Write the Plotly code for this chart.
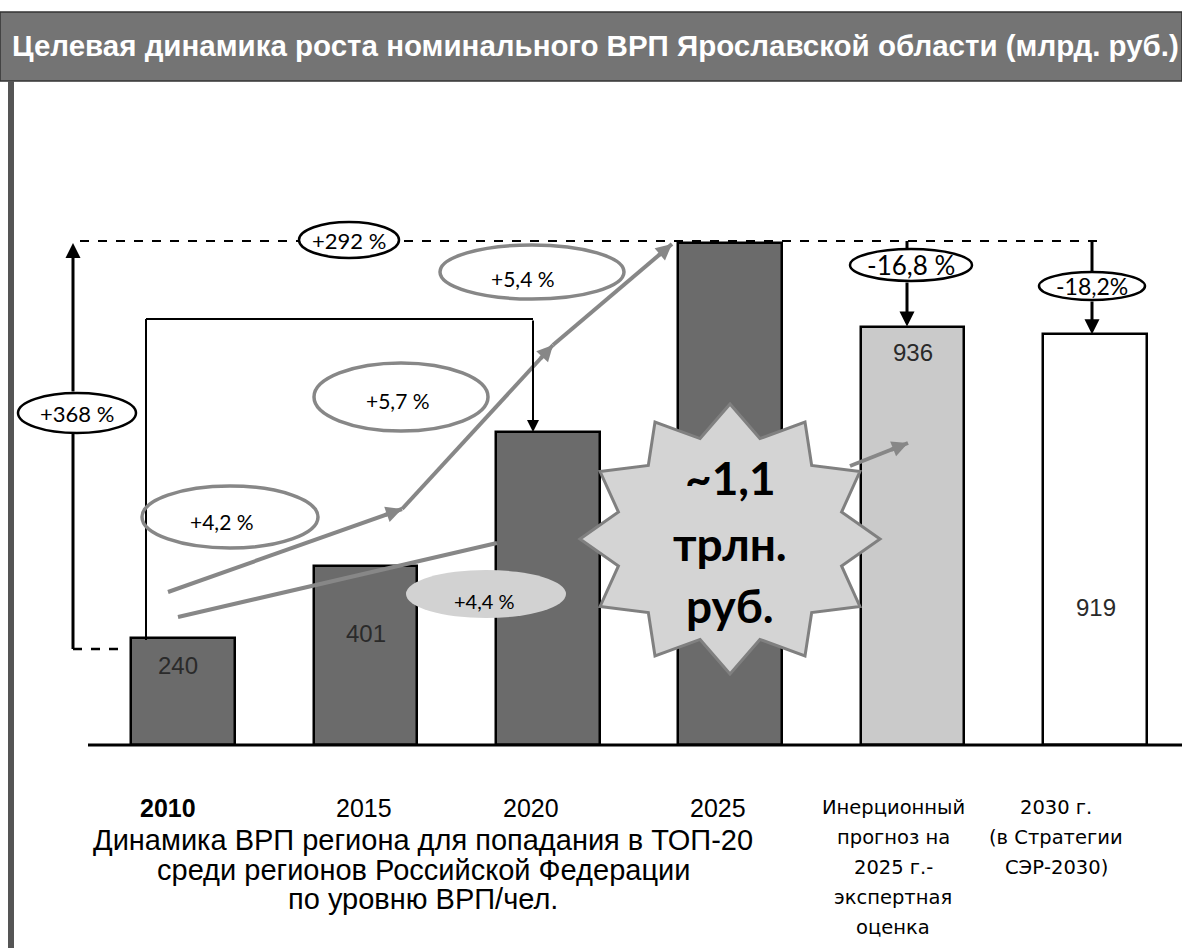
import math
import plotly.graph_objects as go

# ---------------- data ----------------
categories = ["2010", "2015", "2020", "2025", "Инерционный прогноз 2025", "2030 (Стратегия СЭР-2030)"]
values = [240, 401, 700, 1124, 936, 919]
bar_labels = ["240", "401", "", "", "936", "919"]
tick_labels = ["<b>2010</b>", "2015", "2020", "2025"]
right_label_1 = ["Инерционный", "прогноз на", "2025 г.-", "экспертная", "оценка"]
right_label_2 = ["2030 г.", "(в Стратегии", "СЭР-2030)"]
caption_lines = ["Динамика ВРП региона для попадания в ТОП-20",
                 "среди регионов Российской Федерации",
                 "по уровню ВРП/чел."]
growth_labels = ["+4,2 %", "+5,7 %", "+5,4 %", "+4,4 %"]
change_labels = ["+368 %", "+292 %", "-16,8 %", "-18,2%"]
star_lines = ["~1,1", "трлн.", "руб."]
title_text = "Целевая динамика роста номинального ВРП Ярославской области (млрд. руб.)"

# ---------------- layout helpers (pixel -> data) ----------------
W, H = 1182, 948
X0PX, XSTEP = 183.0, 182.4
BASE, SCALE = 745.0, 0.447


def xd(p):
    return (p - X0PX) / XSTEP


def yd(p):
    return (BASE - p) / SCALE


bar_colors = ["#6b6b6b", "#6b6b6b", "#6b6b6b", "#6b6b6b", "#cacaca", "#ffffff"]

fig = go.Figure()
fig.add_trace(go.Bar(
    x=list(range(len(values))), y=values, width=0.567,
    marker=dict(color=bar_colors, line=dict(color="black", width=2.5)),
    hoverinfo="skip", showlegend=False,
))

shapes = []
annotations = []


def line(x0, y0, x1, y1, color="black", width=2, dash=None):
    shapes.append(dict(type="line", xref="x", yref="y", x0=xd(x0), y0=yd(y0),
                       x1=xd(x1), y1=yd(y1), layer="above",
                       line=dict(color=color, width=width, dash=dash)))


def ellipse(cx, cy, rx, ry, color="black", width=2, fill="white"):
    shapes.append(dict(type="circle", xref="x", yref="y",
                       x0=xd(cx - rx), x1=xd(cx + rx), y0=yd(cy + ry), y1=yd(cy - ry),
                       layer="above", fillcolor=fill,
                       line=dict(color=color, width=width)))


def arrow(tx, ty, hx, hy_val, color="black", width=3, size=1.0, head=2):
    annotations.append(dict(x=xd(hx), y=hy_val, ax=xd(tx), ay=yd(ty),
                            xref="x", yref="y", axref="x", ayref="y", text="",
                            showarrow=True, arrowhead=head, arrowsize=size,
                            arrowwidth=width, arrowcolor=color))


def head_only(x0, y0, x1, y1, color, width, size=0.8):
    # short arrow at the end of the segment (x0,y0)->(x1,y1)
    L = math.hypot(x1 - x0, y1 - y0)
    tx, ty = x1 - (x1 - x0) * 20 / L, y1 - (y1 - y0) * 20 / L
    arrow(tx, ty, x1, yd(y1), color=color, width=width, size=size)


def text(x, y, s, size, color="black", family="Liberation Sans, Arial", bold=False):
    annotations.append(dict(x=xd(x), y=yd(y), xref="x", yref="y", text=(f"<b>{s}</b>" if bold else s),
                            showarrow=False, xanchor="center", yanchor="middle",
                            font=dict(size=size, color=color, family=family)))


# title bar and frame
shapes.append(dict(type="rect", xref="paper", yref="paper", x0=0, x1=1,
                   y0=1 - 81 / H, y1=1 - 12 / H, fillcolor="#747474",
                   line=dict(color="#333333", width=1.5), layer="above"))
shapes.append(dict(type="rect", xref="paper", yref="paper", x0=8 / W, x1=14 / W,
                   y0=0, y1=1 - 81 / H, fillcolor="#555555", line=dict(width=0), layer="above"))
annotations.append(dict(x=595 / W, y=1 - 46 / H, xref="paper", yref="paper", text=f"<b>{title_text}</b>",
                        showarrow=False, yanchor="middle",
                        font=dict(size=29.5, color="white", family="Liberation Sans, Arial")))

# baseline
line(88, 745, 1182, 745, width=3)

# dashed top line (2025 level)
line(80, 241, 1103, 241, width=2, dash="dash")

# left +368% arrow
line(73, 649, 73, 433, width=3)
arrow(73, 393, 73, yd(243), width=3, size=1.0)
line(73, 649, 122, 649, width=2.5, dash="dash")
ellipse(77, 413, 59, 20, width=2.5)
text(77, 413, change_labels[0], 22, family="Lato, Liberation Sans")

# +292% ellipse on dashed line
ellipse(349, 240, 50, 18, width=2.5)
text(349, 240, change_labels[1], 22, family="Lato, Liberation Sans")

# bracket from 2010 to 2020
line(146, 640, 146, 319, width=2)
line(146, 319, 533, 319, width=2)
arrow(533, 319, 533, values[2], width=2, size=1.2)

# -16,8 % arrow to inertial bar
line(907, 241, 907, 250, width=3)
arrow(907, 281, 907, values[4], width=3, size=1.0)
ellipse(911, 265, 61, 16, width=2.5)
text(911, 265, change_labels[2], 26, family="Lato, Liberation Sans")

# -18,2% arrow to 2030 bar
line(1092, 241, 1092, 273, width=3)
arrow(1092, 300, 1092, values[5], width=3, size=1.0)
ellipse(1092, 286, 53, 14, width=2.5)
text(1092, 286, change_labels[3], 23, family="Lato, Liberation Sans")

# gray growth arrows
GRAY = "#878787"
path_pts = [(168, 592), (402, 509), (553, 345), (672, 244)]
for (x0, y0), (x1, y1) in zip(path_pts[:-1], path_pts[1:]):
    line(x0, y0, x1, y1, color=GRAY, width=4)
    head_only(x0, y0, x1, y1, GRAY, 4)
line(178, 617, 497, 543, color=GRAY, width=4)
line(850, 466, 908, 443, color=GRAY, width=4)
head_only(850, 466, 908, 443, GRAY, 4)

# growth ellipses
ellipse(230, 517, 88, 31, color=GRAY, width=3.5, fill="rgba(0,0,0,0)")
text(222, 521, growth_labels[0], 21, family="Lato, Liberation Sans")
ellipse(401, 397, 87, 34, color=GRAY, width=3.5, fill="rgba(0,0,0,0)")
text(398, 400, growth_labels[1], 21, family="Lato, Liberation Sans")
ellipse(532, 272, 92, 27, color=GRAY, width=3.5, fill="rgba(0,0,0,0)")
text(523, 278, growth_labels[2], 21, family="Lato, Liberation Sans")
ellipse(486, 594, 80, 24, color="#d2d2d2", width=0, fill="#d2d2d2")
text(484, 601, growth_labels[3], 20, family="Lato, Liberation Sans")

# star
cx, cy, rx, ry = 730, 539, 150, 135
pts = []
for k in range(24):
    a = math.radians(k * 15)
    r = 1.0 if k % 2 == 0 else 0.77
    pts.append((xd(cx + rx * r * math.sin(a)), yd(cy - ry * r * math.cos(a))))
path = "M " + " L ".join(f"{px:.4f},{py:.3f}" for px, py in pts) + " Z"
shapes.append(dict(type="path", xref="x", yref="y", path=path, fillcolor="#d4d4d4",
                   line=dict(color="#808080", width=3), layer="above"))
for s, yy in zip(star_lines, [477, 543, 605]):
    text(730, yy, s, 46, family="Lato, Liberation Sans", bold=True)

# bar value labels (pixel offset below each bar top; None -> fixed position)
label_below_top = [28, 68, None, None, 26, None]
label_fixed_y = [None, None, None, None, None, 607]
label_dx = [-5, 1, 0, 0, 0, 1]
for i, lab in enumerate(bar_labels):
    if not lab:
        continue
    if label_below_top[i] is not None:
        y_val, ysh = values[i], -label_below_top[i]
    else:
        y_val, ysh = yd(label_fixed_y[i]), 0
    annotations.append(dict(x=i, y=y_val, xref="x", yref="y", text=lab,
                            xshift=label_dx[i], yshift=ysh, showarrow=False,
                            font=dict(size=24, color="#2a2a2a", family="Liberation Sans, Arial")))

# category labels below
for lab, xx in zip(tick_labels, [168, 364, 531, 718]):
    text(xx, 808, lab, 25)
for j, s in enumerate(caption_lines):
    text(423, 840 + 29.5 * j, s, 29)
for j, s in enumerate(right_label_1):
    text(893, 807 + 30 * j, s, 19.5, family="DejaVu Sans")
for j, s in enumerate(right_label_2):
    text(1056, 807 + 30 * j, s, 19.5, family="DejaVu Sans")

fig.update_layout(
    width=W, height=H, autosize=False,
    margin=dict(l=0, r=0, t=0, b=0),
    paper_bgcolor="white", plot_bgcolor="white",
    xaxis=dict(range=[xd(0), xd(W)], visible=False, fixedrange=True),
    yaxis=dict(range=[yd(H), yd(0)], visible=False, fixedrange=True),
    shapes=shapes, annotations=annotations, bargap=0,
)

fig.write_html("out.html", config={"displayModeBar": False},
               post_script="document.body.style.margin='0px';")
